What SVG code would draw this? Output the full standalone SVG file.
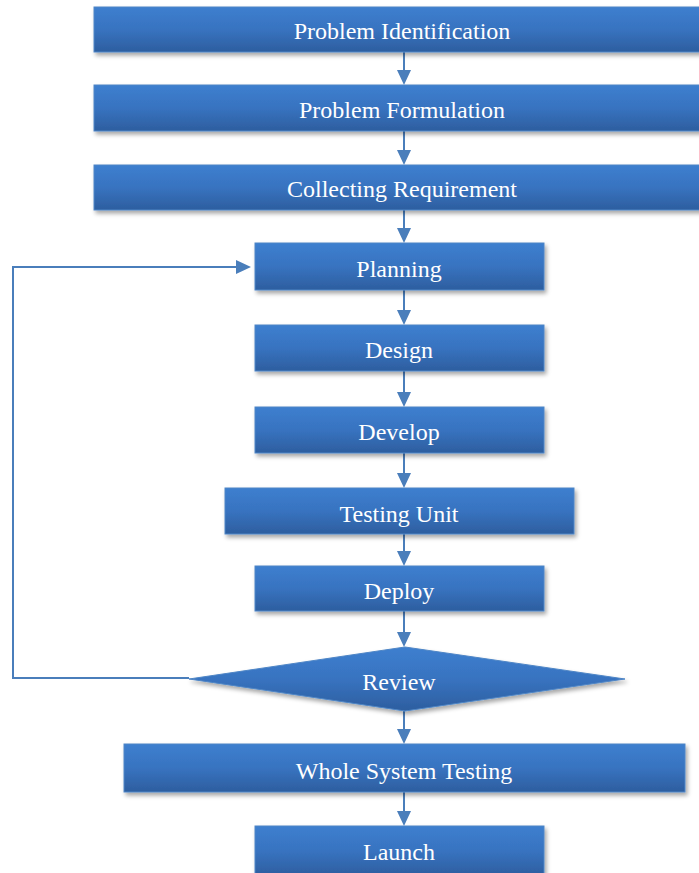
<svg xmlns="http://www.w3.org/2000/svg" width="699" height="873" viewBox="0 0 699 873">
<defs>
<linearGradient id="g" x1="0" y1="0" x2="0" y2="1">
<stop offset="0" stop-color="#3D7FCF"/>
<stop offset="0.5" stop-color="#3873C0"/>
<stop offset="1" stop-color="#2D5E9F"/>
</linearGradient>
<filter id="sh" x="-10%" y="-20%" width="120%" height="160%">
<feDropShadow dx="2" dy="3" stdDeviation="2" flood-color="#000" flood-opacity="0.35"/>
</filter>
<marker id="ah" markerWidth="14" markerHeight="15" refX="7" refY="15" orient="auto-start-reverse" markerUnits="userSpaceOnUse" viewBox="0 0 14 15">
<path d="M0,0 L14,0 L7,15 Z" fill="#4A7EBB"/>
</marker>
</defs>
<style>
.box{fill:url(#g);stroke:#4F86C6;stroke-width:1;filter:url(#sh);}
.t{font-family:"Liberation Serif","Times New Roman",serif;font-size:24px;fill:#fff;text-anchor:middle;}
.c{stroke:#4A7EBB;stroke-width:2;fill:none;}
.hd{fill:#4A7EBB;}
</style>
<g id="connectors">
<line class="c" x1="404" y1="52" x2="404" y2="72"/><path class="hd" d="M397,70 L411,70 L404,85 Z"/>
<line class="c" x1="404" y1="131" x2="404" y2="152"/><path class="hd" d="M397,150 L411,150 L404,165 Z"/>
<line class="c" x1="404" y1="210" x2="404" y2="230"/><path class="hd" d="M397,228 L411,228 L404,243 Z"/>
<line class="c" x1="404" y1="290" x2="404" y2="312"/><path class="hd" d="M397,310 L411,310 L404,325 Z"/>
<line class="c" x1="404" y1="371" x2="404" y2="394"/><path class="hd" d="M397,392 L411,392 L404,407 Z"/>
<line class="c" x1="404" y1="453" x2="404" y2="475"/><path class="hd" d="M397,473 L411,473 L404,488 Z"/>
<line class="c" x1="404" y1="534" x2="404" y2="553"/><path class="hd" d="M397,551 L411,551 L404,566 Z"/>
<line class="c" x1="404" y1="611" x2="404" y2="634"/><path class="hd" d="M397,632 L411,632 L404,647 Z"/>
<line class="c" x1="404" y1="711" x2="404" y2="731"/><path class="hd" d="M397,729 L411,729 L404,744 Z"/>
<line class="c" x1="404" y1="792" x2="404" y2="813"/><path class="hd" d="M397,811 L411,811 L404,826 Z"/>
<polyline class="c" points="189,678 13,678 13,267 238,267"/><path class="hd" d="M236,260 L236,274 L251,267 Z"/>
</g>
<g id="n1"><rect class="box" x="94" y="7" width="620" height="45"/><text class="t" x="402" y="39">Problem Identification</text></g>
<g id="n2"><rect class="box" x="94" y="85" width="620" height="46"/><text class="t" x="402" y="118">Problem Formulation</text></g>
<g id="n3"><rect class="box" x="94" y="165" width="620" height="45"/><text class="t" x="402" y="197">Collecting Requirement</text></g>
<g id="n4"><rect class="box" x="255" y="243" width="289" height="47"/><text class="t" x="399" y="277">Planning</text></g>
<g id="n5"><rect class="box" x="255" y="325" width="289" height="46"/><text class="t" x="399" y="358">Design</text></g>
<g id="n6"><rect class="box" x="255" y="407" width="289" height="46"/><text class="t" x="399" y="440">Develop</text></g>
<g id="n7"><rect class="box" x="225" y="488" width="349" height="46"/><text class="t" x="399" y="522">Testing Unit</text></g>
<g id="n8"><rect class="box" x="255" y="566" width="289" height="45"/><text class="t" x="399" y="599">Deploy</text></g>
<g id="n9"><path class="box" d="M189,679 L405,647 L625,679 L405,711 Z"/><text class="t" x="399" y="690">Review</text></g>
<g id="n10"><rect class="box" x="124" y="744" width="561" height="48"/><text class="t" x="404" y="779">Whole System Testing</text></g>
<g id="n11"><rect class="box" x="255" y="826" width="289" height="50"/><text class="t" x="399" y="860">Launch</text></g>
</svg>
